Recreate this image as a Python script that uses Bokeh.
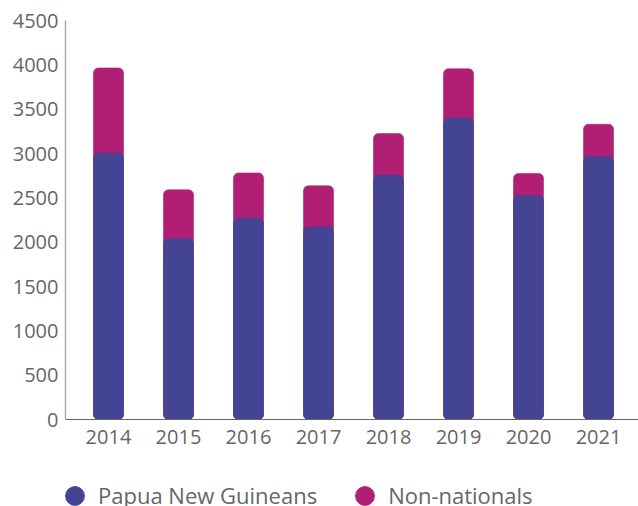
from bokeh.plotting import figure
from bokeh.layouts import column
from bokeh.models import Range1d, FixedTicker, Legend, LegendItem, ColumnDataSource
from bokeh.embed import file_html
from bokeh.resources import INLINE

years = [2014, 2015, 2016, 2017, 2018, 2019, 2020, 2021]
papua_new_guineans = [3005, 2040, 2270, 2170, 2755, 3400, 2525, 2965]
non_nationals = [960, 550, 510, 465, 470, 555, 250, 365]
y_ticks = [0, 500, 1000, 1500, 2000, 2500, 3000, 3500, 4000, 4500]
series_names = ["Papua New Guineans", "Non-nationals"]

BLUE = "#434594"
MAGENTA = "#B01F74"
GREY = "#666666"
FONT = "Open Sans"

totals = [a + b for a, b in zip(papua_new_guineans, non_nationals)]
src = ColumnDataSource(dict(x=years, png=papua_new_guineans, non=non_nationals, total=totals))

p = figure(width=638, height=459, output_backend="svg", toolbar_location=None,
           x_range=Range1d(2013.386, 2021.571), y_range=Range1d(0, 4500),
           min_border_left=65, min_border_top=20, min_border_bottom=40, min_border_right=0)
p.outline_line_color = None
p.grid.visible = False
p.background_fill_color = "white"
p.border_fill_color = "white"

p.vbar(x="x", top="total", bottom=0, width=0.4286, source=src,
       fill_color=MAGENTA, line_color=MAGENTA, line_alpha=0.6, border_radius=5)
p.vbar(x="x", top="png", bottom=0, width=0.4286, source=src,
       fill_color=BLUE, line_color=BLUE, line_alpha=0.6, border_radius=5)

for ax in (p.xaxis[0], p.yaxis[0]):
    ax.major_tick_line_color = None
    ax.minor_tick_line_color = None
    ax.major_tick_out = 0
    ax.major_tick_in = 0
    ax.major_label_text_font = FONT
    ax.major_label_text_font_size = "20px"
    ax.major_label_text_color = GREY

p.xaxis.ticker = FixedTicker(ticks=years)
p.xaxis.axis_line_color = "#666666"
p.xaxis.axis_line_width = 1.2
p.xaxis.major_label_standoff = 10

p.yaxis.ticker = FixedTicker(ticks=y_ticks)
p.yaxis.axis_line_color = "#aaaaaa"
p.yaxis.axis_line_width = 1.5
p.yaxis.major_label_standoff = 7

# legend strip below the chart
lf = figure(width=638, height=47, output_backend="svg", toolbar_location=None,
            x_axis_type=None, y_axis_type=None,
            x_range=Range1d(0, 1), y_range=Range1d(0, 1),
            min_border_left=0, min_border_right=0, min_border_top=0, min_border_bottom=0)
lf.outline_line_color = None
lf.grid.visible = False
# legend proxies (size 0, never drawn)
l_png = lf.scatter(x="x", y="png", source=src, size=0, fill_color=BLUE, line_color=BLUE)
l_non = lf.scatter(x="x", y="non", source=src, size=0, fill_color=MAGENTA, line_color=MAGENTA)

legend = Legend(items=[LegendItem(label=series_names[0], renderers=[l_png]),
                       LegendItem(label=series_names[1], renderers=[l_non])],
                orientation="horizontal", location=(-14, -12.5),
                glyph_width=47, glyph_height=47, label_standoff=0, spacing=24,
                padding=0, margin=0, border_line_color=None, background_fill_alpha=0,
                label_text_font=FONT, label_text_font_size="22px", label_text_color=GREY)
lf.add_layout(legend, "center")

layout = column(p, lf, spacing=0)
open("out.html", "w").write(file_html(layout, INLINE))
